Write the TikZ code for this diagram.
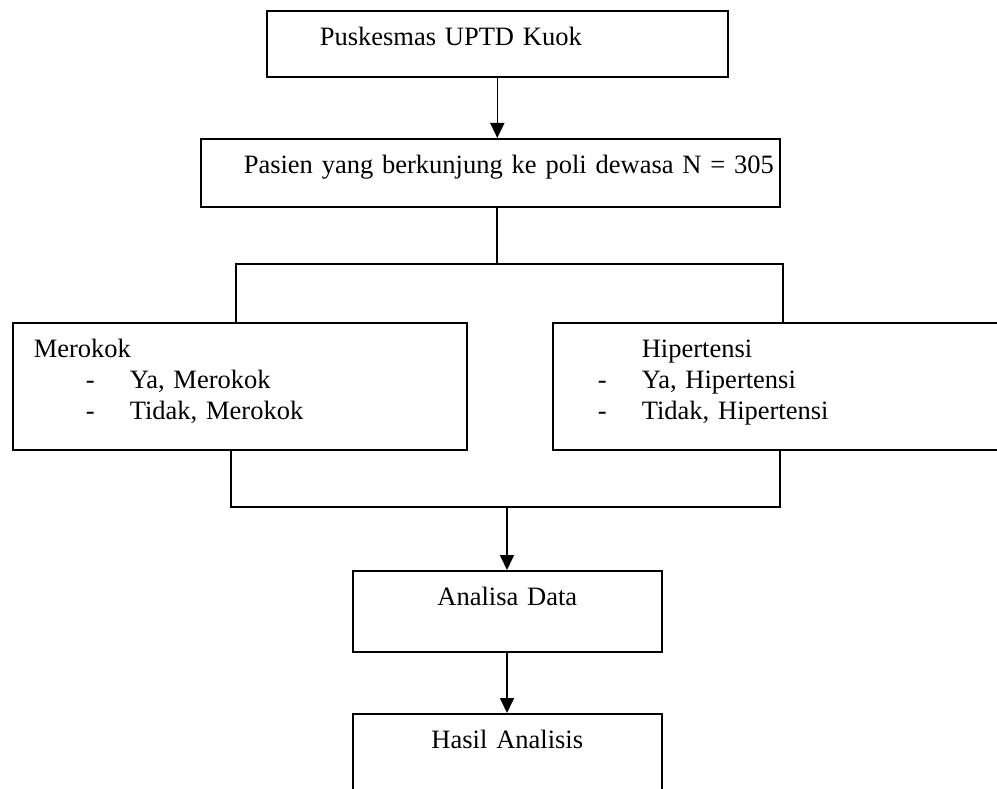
\documentclass[tikz,border=0pt]{standalone}
\usepackage{fontspec}
\setmainfont{Liberation Serif}
\usepackage{xcolor}
\usetikzlibrary{arrows.meta}
\definecolor{ink}{HTML}{000000}
\tikzset{
  box/.style={draw=ink, line width=1.6pt, inner xsep=0pt, inner ysep=0pt, anchor=north west, text=ink, font=\fontsize{26.5}{31}\selectfont},
  link/.style={draw=ink, line width=1.6pt},
  flow/.style={link, -{Triangle[length=15pt,width=14pt]}},
}
\begin{document}
\begin{tikzpicture}[x=1pt,y=-1pt]
  \useasboundingbox (0,0) rectangle (997,789);
  \clip (0,0) rectangle (997,789);
  \def\dash{\makebox[44pt][l]{-}}
  \node[box, text width=461pt, text height=35pt, text depth=31pt, align=left] (puskesmas) at (266,10) {\hspace*{53pt}Puskesmas UPTD Kuok};
  \node[box, text width=579pt, text height=35pt, text depth=33pt, align=left] (pasien) at (200,138) {\hspace*{43pt}Pasien yang berkunjung ke poli dewasa N = 305};
  \node[box, text width=454pt, text height=35pt, text depth=92pt, align=left] (merokok) at (12,322) {\hspace*{21pt}Merokok\\
    \hspace*{73pt}\dash Ya, Merokok\\
    \hspace*{73pt}\dash Tidak, Merokok};
  \node[box, text width=470pt, text height=35pt, text depth=92pt, align=left] (hipertensi) at (552,322) {\hspace*{89pt}Hipertensi\\
    \hspace*{45pt}\dash Ya, Hipertensi\\
    \hspace*{45pt}\dash Tidak, Hipertensi};
  \node[box, text width=309pt, text height=35pt, text depth=46pt, align=center] (analisa) at (352,570) {Analisa Data};
  \node[box, text width=309pt, text height=35pt, text depth=70pt, align=center] (hasil) at (352,713) {Hasil Analisis};
  \coordinate (split) at (497,264);
  \coordinate (splitL) at (236,264);
  \coordinate (splitR) at (783,264);
  \coordinate (joinL) at (231,507);
  \coordinate (joinR) at (780,507);
  \coordinate (join) at (507,507);
  \draw[flow] (puskesmas.south) -- (puskesmas.south |- pasien.north);
  \draw[link] (pasien.south -| split) -- (split);
  \draw[link] (splitL |- merokok.north) -- (splitL) -- (splitR) -- (splitR |- hipertensi.north);
  \draw[link] (joinL |- merokok.south) -- (joinL) -- (joinR) -- (joinR |- hipertensi.south);
  \draw[flow] (join) -- (join |- analisa.north);
  \draw[flow] (analisa.south -| join) -- (join |- hasil.north);
\end{tikzpicture}
\end{document}
